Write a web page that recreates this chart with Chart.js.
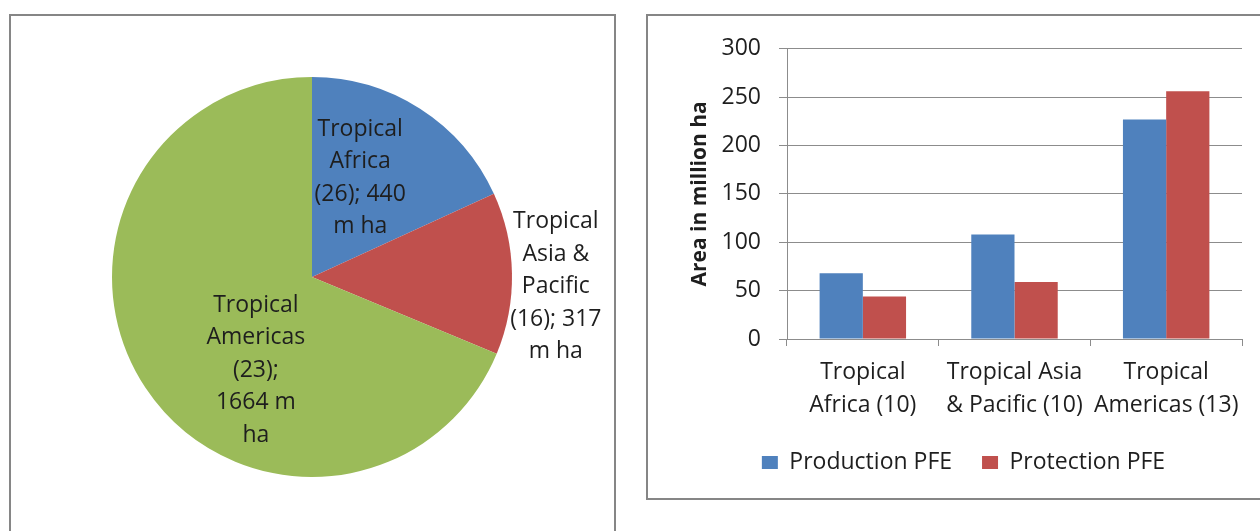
<!DOCTYPE html>
<html>
<head>
<meta charset="utf-8">
<script src="https://cdn.jsdelivr.net/npm/chart.js@4"></script>
<style>
  body { margin: 0; width: 1260px; height: 531px; overflow: hidden; position: relative; background: #fff; font-family: 'Open Sans', sans-serif; }
  .panel { position: absolute; box-sizing: border-box; border: 2px solid #868686; background: #fff; }
  #p1 { left: 9px; top: 14px; width: 607px; height: 560px; }
  #p2 { left: 646px; top: 14px; width: 700px; height: 486px; }
  #pie { position: absolute; left: 0; top: 0; }
  #bar { position: absolute; left: 650px; top: 17px; }
</style>
</head>
<body>
<div class="panel" id="p1"></div>
<div class="panel" id="p2"></div>
<canvas id="pie" width="624" height="531"></canvas>
<canvas id="bar" width="610" height="467"></canvas>
<script>
// pie: natural forest area by region
const regions = ['Tropical Africa', 'Tropical Asia & Pacific', 'Tropical Americas'];
const regionCounts = [26, 16, 23];
const regionArea = [440, 317, 1664];
const pieLabelLines = [
  ['Tropical', 'Africa', '(26); 440', 'm ha'],
  ['Tropical', 'Asia &', 'Pacific', '(16); 317', 'm ha'],
  ['Tropical', 'Americas', '(23);', '1664 m', 'ha']
];

// bars: permanent forest estate
const barCategories = [['Tropical', 'Africa (10)'], ['Tropical Asia', '& Pacific (10)'], ['Tropical', 'Americas (13)']];
const productionPFE = [68, 108, 227];
const protectionPFE = [44, 59, 256];
const yTicks = [0, 50, 100, 150, 200, 250, 300];

const blue = '#4F81BD', red = '#C0504D', green = '#9BBB59';
const ink = '#1e1e1e';
const gridGrey = '#8c8c8c';

Chart.defaults.font.family = "'Open Sans', sans-serif";
Chart.defaults.color = ink;

// labels drawn on / beside each slice, placed by angle from top and fraction of radius
const pieLabels = {
  id: 'pieLabels',
  afterDatasetsDraw(chart, args, opts) {
    const ctx = chart.ctx;
    const meta = chart.getDatasetMeta(0);
    ctx.save();
    ctx.font = opts.font;
    ctx.fillStyle = ink;
    ctx.textAlign = 'center';
    ctx.textBaseline = 'middle';
    meta.data.forEach((arc, i) => {
      const p = opts.placement[i];
      const a = p.angle * Math.PI / 180;
      const cx = arc.x + Math.sin(a) * p.dist * arc.outerRadius;
      const cy = arc.y - Math.cos(a) * p.dist * arc.outerRadius;
      const lines = pieLabelLines[i];
      lines.forEach((ln, j) => {
        ctx.fillText(ln, cx, cy + (j - (lines.length - 1) / 2) * opts.lineHeight);
      });
    });
    ctx.restore();
  }
};

new Chart(document.getElementById('pie'), {
  type: 'pie',
  data: {
    labels: regions,
    datasets: [{
      data: regionArea,
      backgroundColor: [blue, red, green],
      borderWidth: 0
    }]
  },
  options: {
    responsive: false,
    animation: false,
    layout: { padding: { left: 112, right: 112, top: 77, bottom: 54 } },
    plugins: {
      legend: { display: false },
      tooltip: { enabled: false },
      pieLabels: {
        font: "23px 'Open Sans'",
        lineHeight: 32.5,
        placement: [
          { angle: 26, dist: 0.55 },
          { angle: 92.3, dist: 1.22 },
          { angle: 211, dist: 0.545 }
        ]
      }
    }
  },
  plugins: [pieLabels]
});

new Chart(document.getElementById('bar'), {
  type: 'bar',
  data: {
    labels: barCategories,
    datasets: [
      { label: 'Production PFE', data: productionPFE, backgroundColor: blue, categoryPercentage: 0.57, barPercentage: 1 },
      { label: 'Protection PFE', data: protectionPFE, backgroundColor: red, categoryPercentage: 0.57, barPercentage: 1 }
    ]
  },
  options: {
    responsive: false,
    animation: false,
    layout: { padding: { left: 35, right: 18, top: 29, bottom: 0 } },
    plugins: {
      tooltip: { enabled: false },
      legend: {
        position: 'bottom',
        labels: { boxWidth: 16, boxHeight: 13, padding: 30, color: ink, font: { size: 23 } }
      }
    },
    scales: {
      x: {
        grid: { drawOnChartArea: false, tickLength: 7, color: gridGrey },
        border: { color: gridGrey },
        ticks: { padding: 10, maxRotation: 0, autoSkip: false, color: ink, font: { size: 23, lineHeight: 1.43 } },
        afterFit(s) { s.height = 82; }
      },
      y: {
        min: 0,
        max: 300,
        afterBuildTicks(s) { s.ticks = yTicks.map(v => ({ value: v })); },
        grid: { tickLength: 8, color: gridGrey },
        border: { color: gridGrey },
        ticks: { padding: 18, color: ink, font: { size: 23 } },
        title: {
          display: true,
          text: 'Area in million ha',
          color: ink,
          padding: { top: 2, bottom: 0 },
          font: { size: 21, weight: 'bold' }
        },
        afterFit(s) { s.width = 102; }
      }
    }
  }
});
</script>
</body>
</html>
